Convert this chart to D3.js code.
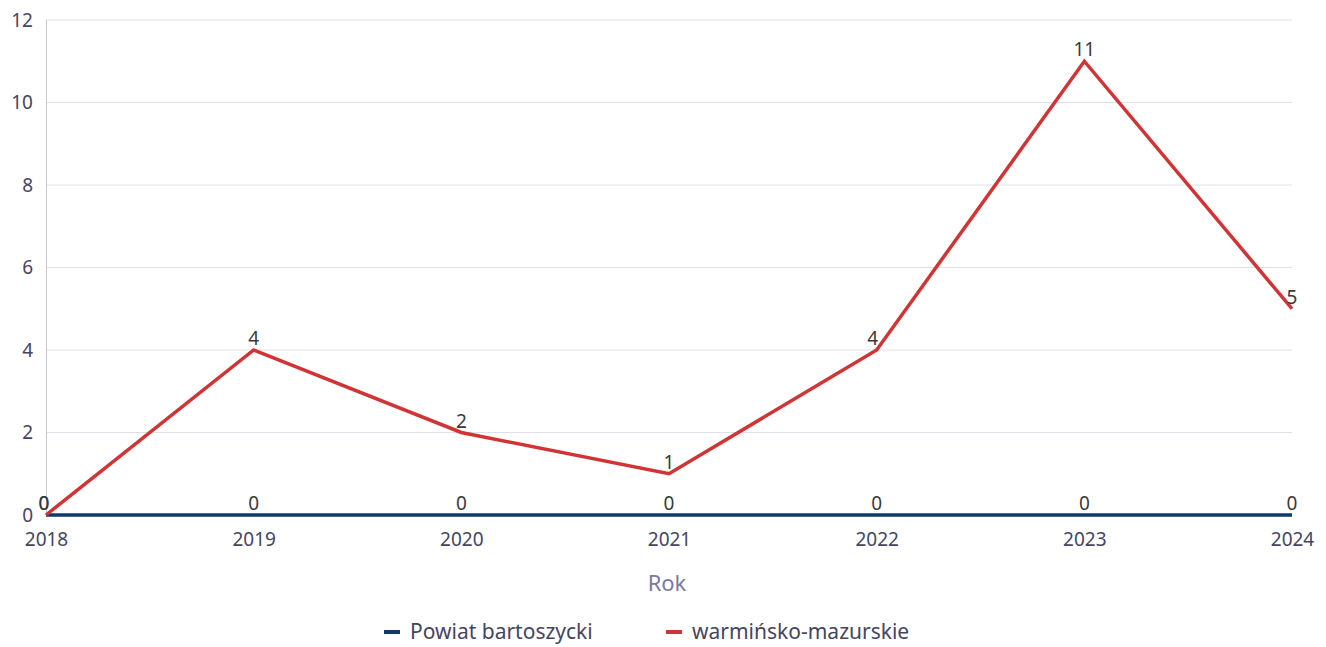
<!DOCTYPE html>
<html><head><meta charset="utf-8">
<script src="https://cdn.jsdelivr.net/npm/d3@7"></script>
<style>body{margin:0;background:#fff;} text{font-family:"Noto Sans",sans-serif;}</style>
</head><body>
<svg id="c" width="1326" height="647"></svg>
<script>
const years = [2018, 2019, 2020, 2021, 2022, 2023, 2024];
const powiat = [0, 0, 0, 0, 0, 0, 0];
const warm = [0, 4, 2, 1, 4, 11, 5];
const yTicks = [0, 2, 4, 6, 8, 10, 12];
const seriesNames = ["Powiat bartoszycki", "warmińsko-mazurskie"];
const colors = ["#0d3a6b", "#d13434"];

const svg = d3.select("#c");
const x = d3.scalePoint().domain(years).range([46, 1292]);
const y = d3.scaleLinear().domain([0, 12]).range([515, 20]);

// grid
svg.append("g").selectAll("line").data(yTicks.filter(d=>d>0)).join("line")
  .attr("x1", 46).attr("x2", 1292).attr("y1", d=>y(d)).attr("y2", d=>y(d))
  .attr("stroke", "#e0e0ea").attr("stroke-width", 1);
svg.append("line").attr("x1", 46.5).attr("x2", 46.5).attr("y1", 20).attr("y2", 515)
  .attr("stroke", "#c8c8d8");

// y axis
const ya = svg.append("g").attr("transform", "translate(46,0)")
  .call(d3.axisLeft(y).tickValues(yTicks).tickSize(0).tickPadding(13));
ya.select(".domain").remove();
ya.selectAll("text").attr("font-size", 19).attr("fill", "#454560").style("font-family", '"Noto Sans",sans-serif');

// x axis
const xa = svg.append("g").attr("transform", "translate(0,515)")
  .call(d3.axisBottom(x).tickSize(0).tickPadding(18));
xa.select(".domain").remove();
xa.selectAll("text").attr("font-size", 19).attr("fill", "#454560").style("font-family", '"Noto Sans",sans-serif');

svg.append("text").attr("x", 667).attr("y", 591).attr("text-anchor", "middle")
  .attr("font-size", 22).attr("fill", "#7a7aa0").text("Rok");

const line = d3.line().x((d,i)=>x(years[i])).y(d=>y(d));
const series = [powiat, warm];
series.forEach((s, k) => {
  svg.append("path").datum(s).attr("d", line).attr("fill", "none")
    .attr("stroke", colors[k]).attr("stroke-width", 3.5).attr("stroke-linejoin", "miter");
});
series.forEach((s, k) => {
  svg.append("g").selectAll("text").data(s).join("text")
    .attr("x", (d,i)=>x(years[i]) - (k===1 && i===4 ? 4 : 0) - (i===0 ? 2 : 0)).attr("y", d=>y(d) - 5)
    .attr("text-anchor", "middle").attr("font-size", 19).attr("fill", "#3a3a3a")
    .text(d=>d);
});

// legend
const lg = [{x:384, tx:410}, {x:666, tx:692}];
seriesNames.forEach((n, k) => {
  svg.append("line").attr("x1", lg[k].x).attr("x2", lg[k].x+16).attr("y1", 632).attr("y2", 632)
    .attr("stroke", colors[k]).attr("stroke-width", 4);
  svg.append("text").attr("x", lg[k].tx).attr("y", 639).attr("font-size", 21)
    .attr("fill", "#454560").text(n);
});
</script>
</body></html>
